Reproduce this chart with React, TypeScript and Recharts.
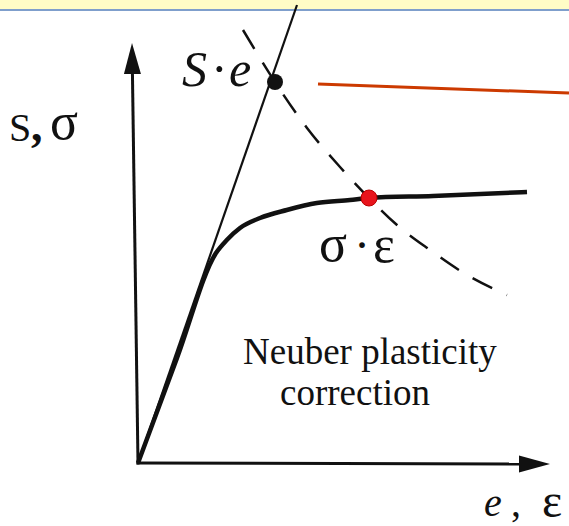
import { LineChart, Line, XAxis, YAxis, ReferenceLine, ReferenceDot, ReferenceArea, Customized } from "recharts";

// units: 1 = 4px, origin at the axes corner
const elasticLine = [
  { x: 0, y: 0 },
  { x: 39.75, y: 114.5 },
];

const stressStrain = [
  { x: 0, y: 0 },
  { x: 9.75, y: 26.25 },
  { x: 19.5, y: 52.5 },
  { x: 22.2, y: 55.75 },
  { x: 25.5, y: 58.75 },
  { x: 30.5, y: 61.25 },
  { x: 37.2, y: 63.25 },
  { x: 44.7, y: 65 },
  { x: 53, y: 65.75 },
  { x: 57.75, y: 66.25 },
  { x: 73.75, y: 66.75 },
  { x: 97.25, y: 67.75 },
];

const neuberHyperbola = [
  { x: 26.25, y: 108.25 },
  { x: 34.25, y: 95.25 },
  { x: 42.25, y: 83.75 },
  { x: 50.5, y: 74 },
  { x: 57.75, y: 66.25 },
  { x: 64.75, y: 59.5 },
  { x: 73, y: 53.25 },
  { x: 82.25, y: 47 },
  { x: 92.25, y: 42 },
];

const elasticPoint = { x: 34.25, y: 95.25 };
const neuberPoint = { x: 57.75, y: 66.25 };

const xAxisSeg = [{ x: 0, y: 0 }, { x: 103, y: -0.25 }];
const yAxisSeg = [{ x: 0, y: 0 }, { x: -1.5, y: 105 }];
const pointerSeg = [{ x: 45, y: 94.75 }, { x: 107.75, y: 92.5 }];

const W = 569;
const H = 526;
const serif = "'Liberation Serif', 'Times New Roman', serif";

// axis line with a filled arrowhead at the far end
const Arrow = (props: any) => {
  const { x1, y1, x2, y2 } = props;
  const dx = x2 - x1;
  const dy = y2 - y1;
  const len = Math.sqrt(dx * dx + dy * dy);
  const ux = dx / len;
  const uy = dy / len;
  const headLen = 31;
  const half = 8.5;
  const bx = x2 - ux * headLen;
  const by = y2 - uy * headLen;
  const pts = [
    [x2, y2],
    [bx - uy * half, by + ux * half],
    [bx + uy * half, by - ux * half],
  ]
    .map((p) => p.join(","))
    .join(" ");
  return (
    <g>
      <line x1={x1 - ux * 1.5} y1={y1 - uy * 1.5} x2={bx} y2={by} stroke="#111" strokeWidth={3} />
      <polygon points={pts} fill="#111" />
    </g>
  );
};

const Labels = () => (
  <g fontFamily={serif} fill="#111">
    <text x={182} y={86} fontSize={50} fontStyle="italic">S</text>
    <text x={211} y={86} fontSize={50}>·</text>
    <text x={229} y={86} fontSize={50} fontStyle="italic">e</text>

    <text x={9} y={141} fontSize={40}>S</text>
    <text x={31} y={141} fontSize={46} fontWeight="bold">,</text>
    <text x={50} y={139} fontSize={52}>σ</text>

    <text x={319} y={261} fontSize={52}>σ</text>
    <text x={354} y={261} fontSize={48}>·</text>
    <text x={373} y={262} fontSize={52}>ε</text>

    <text x={484} y={516} fontSize={40} fontStyle="italic">e</text>
    <text x={511} y={516} fontSize={40}>,</text>
    <text x={542} y={517} fontSize={48}>ε</text>

    <text x={243} y={364} fontSize={37}>Neuber plasticity</text>
    <text x={280} y={405} fontSize={37}>correction</text>
  </g>
);

export default function App() {
  return (
    <div style={{ position: "absolute", left: 0, top: 0, width: W, height: H, background: "#fff" }}>
      <LineChart width={W} height={H} margin={{ top: 0, right: 0, bottom: 0, left: 0 }}>
        <XAxis type="number" dataKey="x" domain={[-34.5, 107.75]} allowDataOverflow hide />
        <YAxis type="number" dataKey="y" domain={[-15.75, 115.75]} allowDataOverflow hide />

        <ReferenceArea x1={-34.5} x2={107.75} y1={113.5} y2={115.75} fill="#fffcc6" fillOpacity={1} stroke="none" />
        <ReferenceLine y={113.25} stroke="#7f9fcc" strokeWidth={2} />

        <Line data={elasticLine} dataKey="y" type="linear" stroke="#111" strokeWidth={2.2} dot={false} activeDot={false} isAnimationActive={false} />
        <Line data={stressStrain} dataKey="y" type="monotone" stroke="#111" strokeWidth={4.5} dot={false} activeDot={false} isAnimationActive={false} />
        <Line data={neuberHyperbola} dataKey="y" type="monotone" stroke="#111" strokeWidth={2.5} strokeDasharray="22 16" dot={false} activeDot={false} isAnimationActive={false} />

        <ReferenceLine segment={xAxisSeg} shape={Arrow} />
        <ReferenceLine segment={yAxisSeg} shape={Arrow} />
        <ReferenceLine segment={pointerSeg} stroke="#cc3a00" strokeWidth={3} />

        <ReferenceDot x={elasticPoint.x} y={elasticPoint.y} r={8} fill="#111" stroke="none" />
        <ReferenceDot x={neuberPoint.x} y={neuberPoint.y} r={8} fill="#e8141c" stroke="#b00" strokeWidth={1} />

        <Customized component={Labels} />
      </LineChart>
    </div>
  );
}
